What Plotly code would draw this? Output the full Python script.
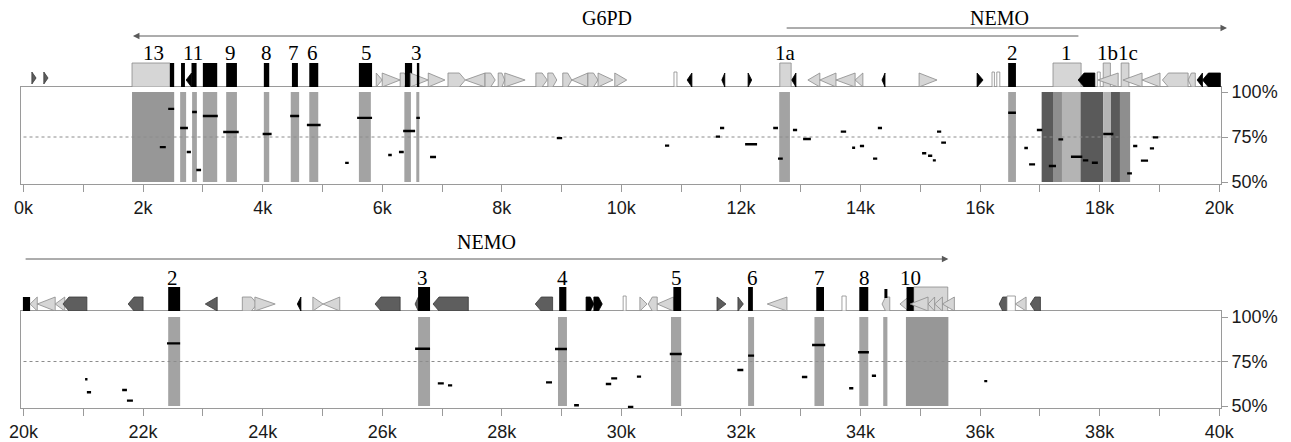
import plotly.graph_objects as go

# ---------------- data ----------------
top_ticks_kb = [0, 2, 4, 6, 8, 10, 12, 14, 16, 18, 20]
top_tick_labels = ["0k", "2k", "4k", "6k", "8k", "10k", "12k", "14k", "16k", "18k", "20k"]
bot_ticks_kb = [20, 22, 24, 26, 28, 30, 32, 34, 36, 38, 40]
bot_tick_labels = ["20k", "22k", "24k", "26k", "28k", "30k", "32k", "34k", "36k", "38k", "40k"]
pct_ticks = [50, 75, 100]
pct_labels = ["50%", "75%", "100%"]

# gene arrows (panel 0 = top, 1 = bottom)
gene_names = ["G6PD", "NEMO", "NEMO"]
gene_panel = [0, 0, 1]
gene_tail = [17.67, 12.74, 20.01]
gene_head = [1.83, 20.13, 35.47]
gene_label_x = [9.76, 16.33, 27.74]

# annotation features: start kb, end kb, kind, direction
top_feat_start = [0.14, 0.34, 1.815, 2.45, 2.635, 2.72, 2.81, 3.00, 3.39, 4.02, 4.49, 4.78, 5.61,
                  5.90, 6.00, 6.30, 6.38, 6.47, 6.58, 6.77, 7.10, 7.39, 7.72, 7.94, 8.05, 8.57,
                  8.77, 9.02, 9.17, 9.44, 9.61, 9.89, 10.88, 11.10, 11.68, 12.12, 12.65, 12.85,
                  13.12, 13.32, 13.59, 13.91, 14.36, 14.98, 15.95, 16.20, 16.28, 16.47, 17.22,
                  17.64, 17.96, 18.06, 17.97, 18.36, 18.39, 18.71, 19.05, 19.48, 19.63, 19.72]
top_feat_end = [0.21, 0.41, 2.45, 2.52, 2.70, 2.81, 2.895, 3.24, 3.57, 4.11, 4.59, 4.93, 5.83,
                6.00, 6.30, 6.43, 6.50, 6.77, 6.62, 7.05, 7.39, 7.72, 7.89, 8.05, 8.39, 8.76,
                8.92, 9.17, 9.44, 9.61, 9.86, 10.09, 10.93, 11.18, 11.73, 12.18, 12.84, 12.92,
                13.32, 13.59, 13.91, 14.04, 14.41, 15.28, 16.05, 16.24, 16.33, 16.60, 17.69,
                17.92, 18.01, 18.18, 18.31, 18.49, 18.71, 19.01, 19.48, 19.60, 19.72, 20.02]
top_feat_kind = ["dtri", "dtri", "utr", "exon", "exon", "btri", "exon", "exon", "exon", "exon", "exon", "exon", "exon",
                 "tri", "tri", "pent", "exon", "tri", "exon", "tri", "pent", "tri", "pent", "pent", "tri", "pent",
                 "pent", "pent", "tri", "pent", "tri", "tri", "thin", "btri", "btri", "btri", "utr", "btri",
                 "tri", "tri", "tri", "tri", "btri", "tri", "btri", "thin", "thin", "exon", "utr",
                 "bpent", "thin", "utr", "tri", "utr", "tri", "tri", "pent", "pent", "btri", "bpent"]
top_feat_dir = ["r", "r", "", "", "", "l", "", "", "", "", "", "", "",
                "r", "r", "r", "", "r", "", "r", "r", "l", "r", "r", "r", "r",
                "r", "r", "l", "r", "r", "r", "", "l", "l", "r", "", "l",
                "l", "l", "l", "l", "l", "r", "r", "", "", "", "",
                "l", "", "", "l", "", "l", "l", "l", "l", "l", "l"]

bot_feat_start = [19.99, 20.11, 20.23, 20.53, 20.66, 21.75, 22.42, 23.04, 23.66, 23.87, 24.58, 24.84,
                  25.01, 25.88, 26.55, 26.60, 26.85, 28.56, 28.96, 29.41, 29.54, 30.03, 30.31, 30.45,
                  30.60, 30.87, 31.60, 31.95, 32.12, 32.44, 33.26, 33.69, 33.98, 34.36, 34.40, 34.66,
                  34.89, 34.77, 34.83, 35.13, 35.24, 35.37, 36.32, 36.45, 36.59, 36.84]
bot_feat_end = [20.11, 20.23, 20.53, 20.69, 21.06, 22.00, 22.62, 23.24, 23.91, 24.21, 24.64, 25.01,
                25.29, 26.30, 26.67, 26.80, 27.44, 28.85, 29.08, 29.54, 29.68, 30.08, 30.43, 30.60,
                30.87, 31.00, 31.75, 32.04, 32.20, 32.77, 33.39, 33.76, 34.13, 34.49, 34.45, 34.80,
                35.46, 34.89, 35.13, 35.24, 35.37, 35.57, 36.45, 36.59, 36.77, 37.01]
bot_feat_kind = ["brect", "tri", "tri", "tri", "dpent", "dpent", "exon", "dtri", "pent", "tri", "btri", "tri",
                 "tri", "dpent", "dpent", "exon", "dpent", "dpent", "exon", "bpent", "bpent", "thin", "tri", "pent",
                 "tri", "exon", "dtri", "dtri", "exon", "tri", "exon", "thin", "exon", "pent", "bcap", "tri",
                 "utr", "exon", "tri", "tri", "tri", "tri", "dpent", "thin", "tri", "dpent"]
bot_feat_dir = ["", "l", "l", "l", "l", "l", "", "l", "r", "r", "l", "r",
                "l", "l", "l", "", "l", "l", "", "r", "r", "", "r", "l",
                "l", "", "r", "r", "", "l", "", "", "", "l", "", "l",
                "", "", "l", "l", "l", "l", "l", "", "l", "l"]

# exon labels
top_exon_labels = ["13", "11", "9", "8", "7", "6", "5", "3", "1a", "2", "1", "1b1c"]
top_exon_label_x = [2.18, 2.84, 3.47, 4.06, 4.52, 4.84, 5.73, 6.58, 12.75, 16.54, 17.45, 18.30]
bot_exon_labels = ["2", "3", "4", "5", "6", "7", "8", "10"]
bot_exon_label_x = [22.50, 26.68, 29.02, 30.92, 32.19, 33.31, 34.06, 34.84]

# conserved regions (shaded columns, 50-100%)
top_cons_start = [1.815, 2.62, 2.82, 3.00, 3.39, 4.02, 4.47, 4.78, 5.61, 6.37, 6.57, 12.64, 16.47,
                  17.03, 17.22, 17.37, 17.68, 18.06, 18.19, 18.34]
top_cons_end = [2.52, 2.72, 2.90, 3.24, 3.57, 4.11, 4.61, 4.93, 5.81, 6.48, 6.62, 12.82, 16.60,
                17.22, 17.37, 17.68, 18.06, 18.19, 18.34, 18.51]
top_cons_shade = ["big", "reg", "reg", "reg", "reg", "reg", "reg", "reg", "reg", "reg", "reg", "reg", "reg",
                  "dark", "mid", "light", "dark", "light", "dark", "mid"]
bot_cons_start = [22.42, 26.60, 28.94, 30.83, 32.12, 33.23, 33.98, 34.38, 34.76]
bot_cons_end = [22.62, 26.80, 29.09, 31.00, 32.22, 33.39, 34.13, 34.45, 35.47]
bot_cons_shade = ["reg", "reg", "reg", "reg", "reg", "reg", "reg", "reg", "big"]

# aligned segments: start kb, end kb, percent identity
top_seg_start = [2.42, 2.62, 2.28, 2.73, 2.82, 2.89, 3.00, 3.34, 4.00, 4.46, 4.74, 5.58, 5.38, 6.10,
                 6.28, 6.35, 6.57, 6.80, 8.92, 10.73, 11.65, 11.58, 12.07, 12.54, 12.62, 12.87, 13.04,
                 13.67, 13.86, 13.99, 14.21, 14.29, 15.03, 15.13, 15.21, 15.28, 15.35, 16.47, 16.95,
                 16.74, 16.82, 17.15, 17.31, 17.52, 17.72, 17.87, 18.06, 18.46, 18.56, 18.69, 18.84, 18.89]
top_seg_end = [2.52, 2.75, 2.38, 2.80, 2.90, 2.97, 3.25, 3.60, 4.15, 4.61, 4.97, 5.83, 5.44, 6.16,
               6.36, 6.55, 6.63, 6.90, 9.01, 10.80, 11.72, 11.65, 12.27, 12.62, 12.70, 12.94, 13.17,
               13.76, 13.91, 14.06, 14.28, 14.36, 15.10, 15.20, 15.26, 15.35, 15.43, 16.60, 17.04,
               16.80, 16.92, 17.27, 17.39, 17.71, 17.81, 17.97, 18.23, 18.54, 18.63, 18.81, 18.91, 18.98]
top_seg_pct = [90.6, 80.0, 69.4, 66.7, 88.9, 56.7, 86.7, 77.8, 76.7, 86.7, 81.7, 85.6, 60.6, 65.0,
               66.7, 78.3, 85.6, 63.9, 74.4, 70.2, 80.0, 75.2, 71.0, 80.0, 63.0, 78.9, 73.9,
               78.0, 69.0, 70.0, 63.0, 80.0, 66.0, 64.6, 62.0, 78.0, 71.9, 88.5, 78.9,
               68.9, 59.8, 58.9, 73.7, 64.0, 62.0, 60.7, 76.7, 54.8, 70.0, 61.9, 68.7, 74.8]
bot_seg_start = [22.40, 21.03, 21.06, 21.65, 21.73, 26.55, 26.93, 27.10, 28.74, 28.89, 29.21, 29.74,
                 29.83, 30.26, 30.11, 30.81, 31.94, 32.12, 33.02, 33.19, 33.81, 33.96, 34.19, 36.07]
bot_seg_end = [22.62, 21.07, 21.13, 21.73, 21.83, 26.80, 27.03, 27.17, 28.84, 29.09, 29.29, 29.83,
               29.93, 30.33, 30.20, 31.01, 32.04, 32.22, 33.11, 33.41, 33.88, 34.14, 34.26, 36.12]
bot_seg_pct = [85.2, 65.0, 57.7, 59.0, 53.0, 82.2, 62.7, 61.6, 63.3, 82.0, 50.4, 62.4,
               65.5, 66.5, 49.5, 79.2, 70.2, 78.3, 66.3, 84.3, 60.0, 80.2, 67.0, 64.0]

# ---------------- styling ----------------
PAGE_W, PAGE_H = 1291, 442
BODY = 8                      # default page margin around the plot div
W, H = PAGE_W - BODY, PAGE_H - BODY
SANS = "Liberation Sans, Arial, sans-serif"
SERIF = "Liberation Serif, Times New Roman, serif"
LINE_GRAY = "#9a9a9a"
SHADES = {"reg": "#a3a3a3", "big": "#979797", "dark": "#5a5a5a", "mid": "#8e8e8e", "light": "#b4b4b4"}
LIGHT_FILL, LIGHT_LINE = "#d6d6d6", "#8a8a8a"
DARK_FILL, DARK_LINE = "#5e5e5e", "#3a3a3a"
EXON_H, REP_H = 24, 14


def pxx(px):
    return (px - BODY) / W


def pxy(py):
    return 1 - (py - BODY) / H


x_dom = [pxx(20.7), pxx(1221)]

fig = go.Figure()

panels = [
    dict(xa="x", ya="y", yt="y3", cs=top_cons_start, ce=top_cons_end, csh=top_cons_shade,
         ss=top_seg_start, se=top_seg_end, sp=top_seg_pct,
         fs=top_feat_start, fe=top_feat_end, fk=top_feat_kind, fd=top_feat_dir,
         ll=top_exon_labels, lx=top_exon_label_x, lab_y=34, arrow_y=[51, 59], name_y=69),
    dict(xa="x2", ya="y2", yt="y4", cs=bot_cons_start, ce=bot_cons_end, csh=bot_cons_shade,
         ss=bot_seg_start, se=bot_seg_end, sp=bot_seg_pct,
         fs=bot_feat_start, fe=bot_feat_end, fk=bot_feat_kind, fd=bot_feat_dir,
         ll=bot_exon_labels, lx=bot_exon_label_x, lab_y=33, arrow_y=[52], name_y=69),
]

shapes = []
annotations = []


def tri_path(x0, x1, y0, y1, d):
    ym = (y0 + y1) / 2
    if d == "r":
        return f"M{x0},{y0} L{x1},{ym} L{x0},{y1} Z"
    return f"M{x1},{y0} L{x0},{ym} L{x1},{y1} Z"


def pent_path(x0, x1, y0, y1, d):
    ym = (y0 + y1) / 2
    tip = min(0.45 * (x1 - x0), 0.1)
    if d == "r":
        xa = x1 - tip
        return f"M{x0},{y0} L{xa},{y0} L{x1},{ym} L{xa},{y1} L{x0},{y1} Z"
    xa = x0 + tip
    return f"M{x1},{y0} L{xa},{y0} L{x0},{ym} L{xa},{y1} L{x1},{y1} Z"


for i, p in enumerate(panels):
    xa, ya, yt = p["xa"], p["ya"], p["yt"]
    for s, e, sh in zip(p["cs"], p["ce"], p["csh"]):
        shapes.append(dict(type="rect", xref=xa, yref=ya, x0=s, x1=e, y0=50, y1=100,
                           fillcolor=SHADES[sh], line=dict(width=0), layer="below"))
    lo = 0 if i == 0 else 20
    shapes.append(dict(type="line", xref=xa, yref=ya, x0=lo, x1=lo + 20.03, y0=75, y1=75,
                       line=dict(color="#8c8c8c", width=1, dash="dot"), layer="below"))
    xs, ys = [], []
    for s, e, v in zip(p["ss"], p["se"], p["sp"]):
        xs += [s, e, None]
        ys += [v, v, None]
    fig.add_trace(go.Scatter(x=xs, y=ys, xaxis=xa, yaxis=ya, mode="lines",
                             line=dict(color="black", width=2.4), hoverinfo="skip", showlegend=False))
    fig.add_trace(go.Scatter(x=[lo + 10], y=[1], xaxis=xa, yaxis=yt, mode="markers",
                             marker=dict(opacity=0), hoverinfo="skip", showlegend=False))
    for s, e, k, d in zip(p["fs"], p["fe"], p["fk"], p["fd"]):
        if k == "exon":
            shapes.append(dict(type="rect", xref=xa, yref=yt, x0=s, x1=e, y0=0, y1=EXON_H,
                               fillcolor="black", line=dict(width=0)))
        elif k == "utr":
            shapes.append(dict(type="rect", xref=xa, yref=yt, x0=s, x1=e, y0=0, y1=EXON_H,
                               fillcolor=LIGHT_FILL, line=dict(color=LIGHT_LINE, width=0.8)))
        elif k == "thin":
            shapes.append(dict(type="rect", xref=xa, yref=yt, x0=s, x1=e, y0=0, y1=REP_H + 1,
                               fillcolor="white", line=dict(color=LIGHT_LINE, width=0.8)))
        elif k == "brect":
            shapes.append(dict(type="rect", xref=xa, yref=yt, x0=s, x1=e, y0=0, y1=REP_H,
                               fillcolor="black", line=dict(width=0)))
        elif k == "bcap":
            shapes.append(dict(type="rect", xref=xa, yref=yt, x0=s, x1=e, y0=REP_H - 1, y1=EXON_H - 2,
                               fillcolor="black", line=dict(width=0)))
        elif k in ("tri", "dtri", "btri"):
            fill = {"tri": LIGHT_FILL, "dtri": DARK_FILL, "btri": "black"}[k]
            lc = {"tri": LIGHT_LINE, "dtri": DARK_LINE, "btri": "black"}[k]
            y0, y1 = (3, 15) if (k == "dtri" and i == 0 and s < 1) else (0, REP_H)
            shapes.append(dict(type="path", xref=xa, yref=yt, path=tri_path(s, e, y0, y1, d),
                               fillcolor=fill, line=dict(color=lc, width=0.8)))
        elif k in ("pent", "dpent", "bpent"):
            fill = {"pent": LIGHT_FILL, "dpent": DARK_FILL, "bpent": "black"}[k]
            lc = {"pent": LIGHT_LINE, "dpent": DARK_LINE, "bpent": "black"}[k]
            shapes.append(dict(type="path", xref=xa, yref=yt, path=pent_path(s, e, 0, REP_H, d),
                               fillcolor=fill, line=dict(color=lc, width=0.8)))
    for t, x in zip(p["ll"], p["lx"]):
        annotations.append(dict(text=t, x=x, y=p["lab_y"], xref=xa, yref=yt, showarrow=False,
                                font=dict(family=SERIF, size=21, color="black"),
                                xanchor="center", yanchor="middle"))

lvl_counter = {0: 0, 1: 0}
for name, pan, tail, head, lx in zip(gene_names, gene_panel, gene_tail, gene_head, gene_label_x):
    p = panels[pan]
    lvl = p["arrow_y"][lvl_counter[pan]]
    lvl_counter[pan] += 1
    annotations.append(dict(text="", x=head, y=lvl, ax=tail, ay=lvl, xref=p["xa"], yref=p["yt"],
                            axref=p["xa"], ayref=p["yt"], showarrow=True, arrowhead=2, arrowsize=1.3,
                            arrowwidth=1, arrowcolor="#5a5a5a", standoff=0, startstandoff=0))
    annotations.append(dict(text=name, x=lx, y=p["name_y"], xref=p["xa"], yref=p["yt"], showarrow=False,
                            font=dict(family=SERIF, size=20, color="black"),
                            xanchor="center", yanchor="middle"))

tickfont = dict(family=SANS, size=18, color="#1a1a1a")


def xaxis_cfg(lo, vals, labels, anchor):
    return dict(domain=x_dom, range=[lo - 0.047, lo + 20.03], anchor=anchor,
                tickmode="array", tickvals=vals, ticktext=labels, ticks="outside", ticklen=7,
                tickcolor=LINE_GRAY, tickfont=tickfont, showgrid=False, zeroline=False,
                showline=True, mirror=True, linecolor=LINE_GRAY, linewidth=1,
                minor=dict(tickmode="array", tickvals=[v + 1 for v in vals[:-1]], ticks="outside",
                           ticklen=7, tickcolor=LINE_GRAY, showgrid=False),
                fixedrange=True, automargin=False)


def yaxis_cfg(dom, rng, anchor):
    return dict(domain=dom, range=rng, anchor=anchor, side="right",
                tickmode="array", tickvals=pct_ticks, ticktext=pct_labels, ticks="outside", ticklen=6,
                tickcolor=LINE_GRAY, tickfont=tickfont, showgrid=False, zeroline=False,
                showline=True, mirror=True, linecolor=LINE_GRAY, linewidth=1,
                fixedrange=True, automargin=False)


def track_cfg(dom, rng, anchor):
    return dict(domain=dom, range=rng, anchor=anchor, visible=False, fixedrange=True,
                showgrid=False, zeroline=False)


fig.update_layout(
    width=W, height=H, autosize=False,
    margin=dict(l=0, r=0, t=0, b=0),
    paper_bgcolor="white", plot_bgcolor="white",
    template="none", showlegend=False,
    xaxis=xaxis_cfg(0, top_ticks_kb, top_tick_labels, "y"),
    xaxis2=xaxis_cfg(20, bot_ticks_kb, bot_tick_labels, "y2"),
    yaxis=yaxis_cfg([pxy(184), pxy(87)], [48.89, 102.78], "x"),
    yaxis2=yaxis_cfg([pxy(408), pxy(311)], [48.88, 103.37], "x2"),
    yaxis3=track_cfg([pxy(87), 1.0], [0, 87 - BODY], "x"),
    yaxis4=track_cfg([pxy(311), pxy(225)], [0, 86], "x2"),
    shapes=shapes,
    annotations=annotations,
)

fig.write_html("out.html")
